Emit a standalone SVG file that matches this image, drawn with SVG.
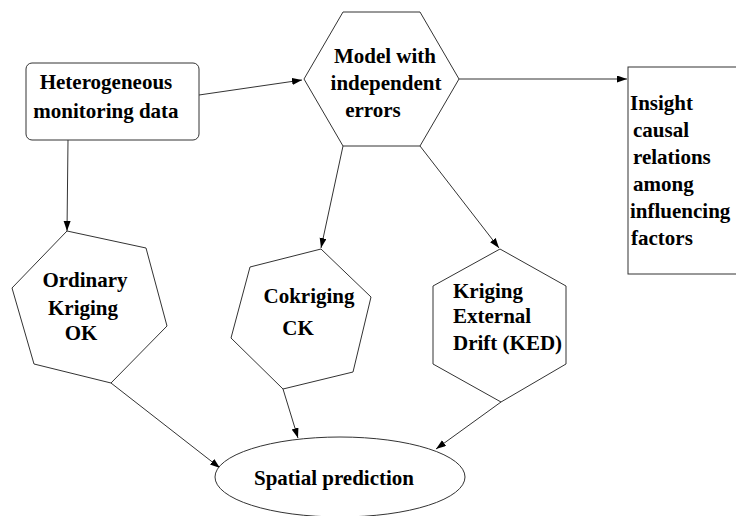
<svg xmlns="http://www.w3.org/2000/svg" width="736" height="516" viewBox="0 0 736 516">
<style>
.shape{fill:#fff;stroke:#333;stroke-width:1}
.conn{stroke:#333;stroke-width:1;fill:none;marker-end:url(#ah)}
text{font-family:"Liberation Serif","Times New Roman",serif;font-weight:bold;font-size:21px;fill:#000}
.c{text-anchor:middle}
</style>
<defs>
<marker id="ah" markerUnits="userSpaceOnUse" markerWidth="11" markerHeight="8" refX="10" refY="3.5" orient="auto">
<path d="M0,0 L10,3.5 L0,7 z" fill="#000"/>
</marker>
</defs>
<rect width="736" height="516" fill="#fff"/>
<g id="connectors">
<line class="conn" x1="199" y1="95" x2="302" y2="80"/>
<line class="conn" x1="68" y1="140" x2="67" y2="231"/>
<line class="conn" x1="459" y1="79" x2="627" y2="79"/>
<line class="conn" x1="343" y1="146" x2="321" y2="248"/>
<line class="conn" x1="420" y1="146" x2="499" y2="248"/>
<line class="conn" x1="111" y1="383" x2="220" y2="468"/>
<line class="conn" x1="283" y1="389" x2="298" y2="438"/>
<line class="conn" x1="501" y1="402" x2="436" y2="449"/>
</g>
<g id="hetero">
<rect class="shape" x="26" y="63" width="173" height="77" rx="6"/>
<text class="c" x="106" y="89">Heterogeneous</text>
<text class="c" x="106" y="118">monitoring data</text>
</g>
<g id="model">
<polygon class="shape" points="343,12 420,12 459,79 420,146 343,146 304,79"/>
<text class="c" x="385" y="63">Model with</text>
<text class="c" x="386" y="90">independent</text>
<text class="c" x="373" y="117">errors</text>
</g>
<g id="insight">
<rect class="shape" x="628" y="67" width="120" height="207"/>
<text x="630" y="110">Insight</text>
<text x="633" y="137">causal</text>
<text x="633" y="164">relations</text>
<text x="633" y="191">among</text>
<text x="630" y="218">influencing</text>
<text x="631" y="245">factors</text>
</g>
<g id="ok">
<polygon class="shape" points="67,231 146,248 167,326 111,383 34,364 12,288"/>
<text class="c" x="85" y="287">Ordinary</text>
<text class="c" x="83" y="315">Kriging</text>
<text class="c" x="81" y="340">OK</text>
</g>
<g id="ck">
<polygon class="shape" points="321,249 371,297 353,372 283,389 231,338 250,267"/>
<text class="c" x="309" y="303">Cokriging</text>
<text class="c" x="298" y="335">CK</text>
</g>
<g id="ked">
<polygon class="shape" points="500,249 566,286 566,364 501,402 433,364 433,286"/>
<text x="453" y="298">Kriging</text>
<text x="453" y="323">External</text>
<text x="453" y="350">Drift (KED)</text>
</g>
<g id="spatial">
<ellipse class="shape" cx="340" cy="477" rx="125" ry="40"/>
<text class="c" x="334" y="485">Spatial prediction</text>
</g>
</svg>
